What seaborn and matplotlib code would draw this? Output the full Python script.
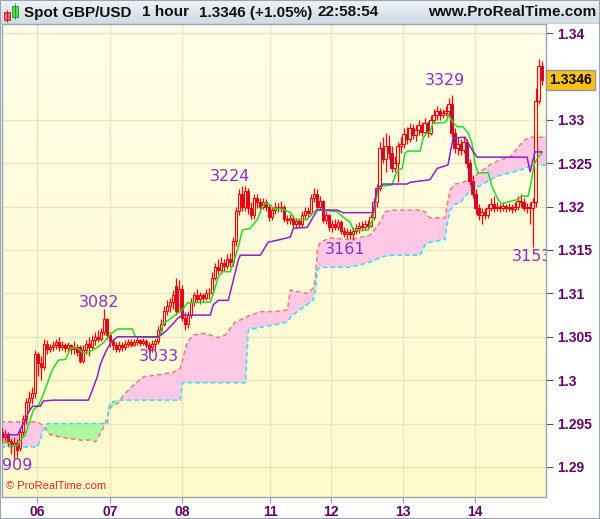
import numpy as np
import matplotlib
matplotlib.use('Agg')
import matplotlib.pyplot as plt
import matplotlib.transforms as mtransforms
from matplotlib.colors import LinearSegmentedColormap
from matplotlib.patches import Rectangle
import seaborn as sns

# ---------------- data (hourly GBP/USD candles, index = bar number) ----------------
opens = [
    1.2940, 1.2935, 1.2938, 1.2930, 1.2925, 1.2928, 1.2922, 1.2940, 1.2955, 1.2975,
    1.2980, 1.2985, 1.3030, 1.3020, 1.3015, 1.3042, 1.3036, 1.3038, 1.3040, 1.3044,
    1.3038, 1.3040, 1.3037, 1.3040, 1.3036, 1.3038, 1.3038, 1.3022, 1.3035, 1.3042,
    1.3038, 1.3046, 1.3050, 1.3048, 1.3055, 1.3070, 1.3052, 1.3045, 1.3040, 1.3036,
    1.3040, 1.3038, 1.3042, 1.3044, 1.3041, 1.3044, 1.3046, 1.3043, 1.3045, 1.3041,
    1.3038, 1.3042, 1.3045, 1.3058, 1.3065, 1.3080, 1.3085, 1.3090, 1.3108, 1.3080,
    1.3105, 1.3072, 1.3065, 1.3075, 1.3090, 1.3098, 1.3094, 1.3098, 1.3095, 1.3100,
    1.3100, 1.3118, 1.3130, 1.3127, 1.3135, 1.3132, 1.3140, 1.3136, 1.3160, 1.3195,
    1.3215, 1.3200, 1.3218, 1.3198, 1.3190, 1.3210, 1.3205, 1.3200, 1.3205, 1.3200,
    1.3188, 1.3196, 1.3200, 1.3198, 1.3200, 1.3186, 1.3184, 1.3187, 1.3180, 1.3183,
    1.3180, 1.3190, 1.3195, 1.3193, 1.3210, 1.3215, 1.3200, 1.3206, 1.3185, 1.3190,
    1.3176, 1.3180, 1.3177, 1.3182, 1.3172, 1.3168, 1.3171, 1.3168, 1.3172, 1.3175,
    1.3178, 1.3176, 1.3180, 1.3178, 1.3188, 1.3205, 1.3222, 1.3268, 1.3255, 1.3270,
    1.3262, 1.3245, 1.3250, 1.3270, 1.3272, 1.3284, 1.3278, 1.3290, 1.3282, 1.3288,
    1.3294, 1.3286, 1.3296, 1.3285, 1.3300, 1.3306, 1.3310, 1.3305, 1.3308, 1.3310,
    1.3318, 1.3285, 1.3268, 1.3272, 1.3265, 1.3275, 1.3250, 1.3230, 1.3215, 1.3198,
    1.3190, 1.3194, 1.3190, 1.3198, 1.3203, 1.3198, 1.3200, 1.3198, 1.3201, 1.3198,
    1.3200, 1.3197, 1.3200, 1.3207, 1.3205, 1.3198, 1.3200, 1.3198, 1.3205, 1.3322,
    1.3362]
closes = [
    1.2935, 1.2938, 1.2930, 1.2925, 1.2928, 1.2920, 1.2940, 1.2955, 1.2975, 1.2980,
    1.2985, 1.3030, 1.3020, 1.3015, 1.3042, 1.3036, 1.3038, 1.3040, 1.3044, 1.3038,
    1.3040, 1.3037, 1.3040, 1.3036, 1.3038, 1.3033, 1.3022, 1.3035, 1.3042, 1.3038,
    1.3046, 1.3050, 1.3048, 1.3055, 1.3070, 1.3052, 1.3045, 1.3040, 1.3036, 1.3040,
    1.3038, 1.3042, 1.3044, 1.3041, 1.3044, 1.3046, 1.3043, 1.3045, 1.3041, 1.3036,
    1.3042, 1.3045, 1.3058, 1.3065, 1.3080, 1.3085, 1.3090, 1.3098, 1.3080, 1.3105,
    1.3072, 1.3065, 1.3075, 1.3090, 1.3098, 1.3094, 1.3098, 1.3095, 1.3100, 1.3100,
    1.3118, 1.3130, 1.3127, 1.3135, 1.3132, 1.3140, 1.3136, 1.3160, 1.3195, 1.3215,
    1.3200, 1.3218, 1.3198, 1.3190, 1.3210, 1.3205, 1.3200, 1.3205, 1.3200, 1.3188,
    1.3196, 1.3200, 1.3198, 1.3200, 1.3186, 1.3184, 1.3187, 1.3180, 1.3183, 1.3180,
    1.3190, 1.3195, 1.3193, 1.3210, 1.3215, 1.3200, 1.3206, 1.3185, 1.3190, 1.3176,
    1.3180, 1.3177, 1.3182, 1.3172, 1.3168, 1.3171, 1.3168, 1.3172, 1.3175, 1.3178,
    1.3176, 1.3180, 1.3178, 1.3188, 1.3205, 1.3222, 1.3268, 1.3255, 1.3270, 1.3262,
    1.3245, 1.3250, 1.3270, 1.3272, 1.3284, 1.3278, 1.3290, 1.3282, 1.3288, 1.3294,
    1.3286, 1.3296, 1.3285, 1.3300, 1.3306, 1.3310, 1.3305, 1.3308, 1.3310, 1.3318,
    1.3285, 1.3268, 1.3272, 1.3265, 1.3275, 1.3250, 1.3230, 1.3215, 1.3198, 1.3190,
    1.3194, 1.3190, 1.3198, 1.3203, 1.3198, 1.3200, 1.3198, 1.3201, 1.3198, 1.3200,
    1.3197, 1.3200, 1.3207, 1.3205, 1.3198, 1.3200, 1.3198, 1.3205, 1.3322, 1.3362,
    1.3346]
highs = [
    1.2945, 1.2943, 1.2940, 1.2933, 1.2935, 1.2932, 1.2945, 1.2960, 1.2980, 1.2988,
    1.2992, 1.3035, 1.3033, 1.3028, 1.3048, 1.3046, 1.3042, 1.3045, 1.3048, 1.3050,
    1.3045, 1.3043, 1.3044, 1.3042, 1.3045, 1.3042, 1.3040, 1.3040, 1.3046, 1.3050,
    1.3052, 1.3056, 1.3058, 1.3060, 1.3082, 1.3072, 1.3055, 1.3048, 1.3044, 1.3045,
    1.3044, 1.3046, 1.3048, 1.3047, 1.3048, 1.3050, 1.3048, 1.3049, 1.3048, 1.3044,
    1.3046, 1.3048, 1.3062, 1.3070, 1.3085, 1.3092, 1.3095, 1.3104, 1.3118, 1.3115,
    1.3110, 1.3078, 1.3080, 1.3095, 1.3102, 1.3105, 1.3102, 1.3100, 1.3105, 1.3106,
    1.3125, 1.3135, 1.3140, 1.3142, 1.3140, 1.3145, 1.3147, 1.3165, 1.3200, 1.3220,
    1.3224, 1.3224, 1.3222, 1.3205, 1.3215, 1.3214, 1.3210, 1.3210, 1.3209, 1.3203,
    1.3200, 1.3205, 1.3204, 1.3206, 1.3202, 1.3190, 1.3191, 1.3190, 1.3187, 1.3187,
    1.3195, 1.3200, 1.3200, 1.3215, 1.3222, 1.3220, 1.3212, 1.3208, 1.3195, 1.3192,
    1.3185, 1.3186, 1.3186, 1.3185, 1.3176, 1.3175, 1.3174, 1.3176, 1.3180, 1.3182,
    1.3183, 1.3185, 1.3184, 1.3192, 1.3210, 1.3226, 1.3275, 1.3280, 1.3285, 1.3282,
    1.3270, 1.3258, 1.3275, 1.3280, 1.3290, 1.3292, 1.3296, 1.3295, 1.3294, 1.3300,
    1.3298, 1.3302, 1.3299, 1.3305, 1.3312, 1.3316, 1.3314, 1.3312, 1.3316, 1.3325,
    1.3329, 1.3290, 1.3280, 1.3278, 1.3280, 1.3278, 1.3255, 1.3236, 1.3220, 1.3203,
    1.3198, 1.3198, 1.3203, 1.3210, 1.3212, 1.3205, 1.3203, 1.3205, 1.3203, 1.3204,
    1.3203, 1.3205, 1.3212, 1.3215, 1.3210, 1.3204, 1.3205, 1.3210, 1.3337, 1.3370,
    1.3368]
lows = [
    1.2928, 1.2930, 1.2924, 1.2915, 1.2909, 1.2912, 1.2918, 1.2935, 1.2950, 1.2965,
    1.2972, 1.2980, 1.3005, 1.3000, 1.3012, 1.3030, 1.3032, 1.3034, 1.3036, 1.3034,
    1.3035, 1.3032, 1.3033, 1.3030, 1.3030, 1.3028, 1.3020, 1.3020, 1.3030, 1.3028,
    1.3035, 1.3040, 1.3044, 1.3045, 1.3052, 1.3048, 1.3038, 1.3035, 1.3032, 1.3033,
    1.3034, 1.3035, 1.3038, 1.3038, 1.3039, 1.3040, 1.3039, 1.3040, 1.3037, 1.3033,
    1.3033, 1.3035, 1.3042, 1.3055, 1.3062, 1.3075, 1.3078, 1.3082, 1.3075, 1.3078,
    1.3068, 1.3058, 1.3060, 1.3072, 1.3085, 1.3090, 1.3088, 1.3090, 1.3092, 1.3094,
    1.3098, 1.3115, 1.3122, 1.3122, 1.3126, 1.3128, 1.3130, 1.3132, 1.3155, 1.3190,
    1.3195, 1.3195, 1.3192, 1.3186, 1.3186, 1.3198, 1.3196, 1.3197, 1.3195, 1.3183,
    1.3184, 1.3192, 1.3194, 1.3194, 1.3182, 1.3180, 1.3180, 1.3176, 1.3175, 1.3176,
    1.3177, 1.3186, 1.3188, 1.3190, 1.3205, 1.3196, 1.3197, 1.3181, 1.3180, 1.3172,
    1.3171, 1.3173, 1.3173, 1.3168, 1.3165, 1.3164, 1.3163, 1.3161, 1.3168, 1.3170,
    1.3172, 1.3173, 1.3174, 1.3176, 1.3185, 1.3200, 1.3218, 1.3250, 1.3240, 1.3255,
    1.3240, 1.3240, 1.3228, 1.3262, 1.3268, 1.3272, 1.3274, 1.3278, 1.3276, 1.3282,
    1.3281, 1.3283, 1.3280, 1.3282, 1.3296, 1.3300, 1.3300, 1.3302, 1.3304, 1.3305,
    1.3280, 1.3262, 1.3260, 1.3260, 1.3262, 1.3245, 1.3225, 1.3210, 1.3192, 1.3185,
    1.3180, 1.3186, 1.3187, 1.3195, 1.3194, 1.3195, 1.3194, 1.3195, 1.3194, 1.3195,
    1.3193, 1.3194, 1.3196, 1.3200, 1.3195, 1.3193, 1.3180, 1.3153, 1.3200, 1.3318,
    1.3340]

# Ichimoku lines (bar index, price)
tenkan_x = [-0.5, 1.8, 3.8, 5.2, 6.2, 7.8, 10.5, 12.2, 13.5, 15.2,
            16.8, 18.8, 21.2, 22.8, 25.2, 26.8, 28.8, 31.8, 33.8, 36.2,
            38.5, 43.5, 44.5, 51.8, 52.8, 53.8, 55.5, 58.5, 60.2, 61.8,
            69.5, 70.5, 72.2, 73.5, 76.2, 77.8, 78.8, 80.2, 82.8, 85.2,
            86.8, 87.8, 89.5, 90.5, 93.8, 96.2, 97.8, 101.8, 103.8, 105.2,
            107.2, 111.8, 113.8, 116.2, 117.2, 122.2, 123.8, 125.2, 125.5, 130.2,
            131.2, 132.2, 133.5, 134.5, 135.5, 139.5, 140.5, 141.8, 142.8, 143.8,
            147.8, 148.5, 148.8, 150.5, 151.8, 153.8, 155.5, 156.8, 157.8, 158.8,
            162.2, 163.5, 165.5, 166.8, 168.5, 171.8, 173.5, 175.5, 176.5, 177.5,
            178.5, 180.2]
tenkan_y = [1.2929, 1.2928, 1.2924, 1.2925, 1.2931, 1.2937, 1.2966, 1.2971, 1.2981, 1.2997,
            1.3012, 1.3023, 1.3024, 1.3037, 1.3037, 1.3032, 1.3032, 1.3038, 1.3043, 1.3053,
            1.3059, 1.3059, 1.3050, 1.3049, 1.3052, 1.3066, 1.3069, 1.3077, 1.3081, 1.3089,
            1.3090, 1.3100, 1.3119, 1.3125, 1.3125, 1.3142, 1.3153, 1.3173, 1.3175, 1.3185,
            1.3200, 1.3204, 1.3202, 1.3198, 1.3197, 1.3193, 1.3185, 1.3185, 1.3193, 1.3197,
            1.3196, 1.3194, 1.3188, 1.3182, 1.3173, 1.3173, 1.3187, 1.3217, 1.3223, 1.3225,
            1.3236, 1.3242, 1.3244, 1.3262, 1.3264, 1.3264, 1.3279, 1.3285, 1.3286, 1.3296,
            1.3297, 1.3300, 1.3306, 1.3297, 1.3292, 1.3292, 1.3285, 1.3273, 1.3250, 1.3239,
            1.3239, 1.3223, 1.3208, 1.3203, 1.3205, 1.3208, 1.3212, 1.3212, 1.3227, 1.3248,
            1.3255, 1.3262]
kijun_x = [-0.5, 5.2, 6.8, 7.8, 8.8, 10.2, 12.8, 13.8, 17.2, 28.8,
           30.2, 31.8, 32.8, 34.5, 36.2, 38.5, 52.2, 54.5, 56.8, 58.8,
           60.5, 69.5, 70.5, 72.2, 75.5, 76.8, 78.8, 79.5, 86.2, 88.8,
           92.8, 96.2, 97.2, 101.8, 103.8, 105.2, 111.8, 113.8, 123.8, 125.2,
           127.2, 135.2, 136.2, 142.8, 145.2, 148.8, 150.5, 154.5, 156.2, 158.5,
           175.2, 176.2, 177.8, 180.2]
kijun_y = [1.2937, 1.2937, 1.2948, 1.2954, 1.2963, 1.2970, 1.2970, 1.2976, 1.2977, 1.2977,
           1.2989, 1.3004, 1.3018, 1.3032, 1.3043, 1.3050, 1.3050, 1.3056, 1.3064, 1.3072,
           1.3075, 1.3075, 1.3087, 1.3092, 1.3092, 1.3110, 1.3138, 1.3144, 1.3144, 1.3159,
           1.3162, 1.3165, 1.3175, 1.3176, 1.3188, 1.3196, 1.3196, 1.3193, 1.3193, 1.3221,
           1.3226, 1.3226, 1.3228, 1.3231, 1.3244, 1.3248, 1.3279, 1.3280, 1.3269, 1.3257,
           1.3257, 1.3240, 1.3263, 1.3263]
cloud_x = [-0.5, 11.8, 12.8, 13.5, 14.5, 15.2, 16.2, 18.8, 21.8, 26.2,
           29.5, 31.2, 32.2, 33.5, 34.5, 35.2, 35.5, 36.2, 38.8, 40.2,
           41.2, 43.8, 47.2, 51.8, 57.2, 59.5, 60.2, 61.8, 63.8, 67.2,
           69.5, 71.8, 74.5, 77.8, 81.2, 82.2, 86.2, 91.2, 95.2, 96.2,
           98.5, 101.8, 103.8, 104.5, 105.2, 106.2, 109.5, 116.2, 122.8, 126.2,
           127.8, 130.2, 139.5, 141.2, 142.8, 147.8, 148.5, 149.5, 151.2, 152.8,
           156.2, 159.5, 162.8, 166.2, 169.5, 172.8, 174.5, 176.2, 181.5]
span_a = [1.2952, 1.2952, 1.2950, 1.2948, 1.2945, 1.2940, 1.2937, 1.2935, 1.2933, 1.2931,
          1.2931, 1.2929, 1.2935, 1.2943, 1.2951, 1.2956, 1.2962, 1.2969, 1.2974, 1.2981,
          1.2985, 1.2994, 1.3004, 1.3006, 1.3009, 1.3014, 1.3023, 1.3044, 1.3052, 1.3054,
          1.3052, 1.3049, 1.3052, 1.3067, 1.3072, 1.3074, 1.3079, 1.3079, 1.3081, 1.3104,
          1.3102, 1.3100, 1.3106, 1.3115, 1.3150, 1.3159, 1.3164, 1.3162, 1.3167, 1.3182,
          1.3194, 1.3196, 1.3196, 1.3194, 1.3187, 1.3187, 1.3202, 1.3219, 1.3226, 1.3227,
          1.3231, 1.3240, 1.3248, 1.3254, 1.3257, 1.3271, 1.3277, 1.3280, 1.3280]
span_b = [1.2923, 1.2923, 1.2931, 1.2940, 1.2947, 1.2950, 1.2950, 1.2950, 1.2950, 1.2950,
          1.2950, 1.2950, 1.2950, 1.2950, 1.2950, 1.2950, 1.2966, 1.2974, 1.2977, 1.2977,
          1.2977, 1.2977, 1.2977, 1.2977, 1.2977, 1.2977, 1.2997, 1.2997, 1.2997, 1.2997,
          1.2997, 1.2997, 1.2997, 1.2997, 1.2997, 1.3058, 1.3061, 1.3064, 1.3067, 1.3072,
          1.3079, 1.3087, 1.3092, 1.3104, 1.3127, 1.3130, 1.3130, 1.3130, 1.3136, 1.3141,
          1.3143, 1.3144, 1.3144, 1.3156, 1.3159, 1.3162, 1.3179, 1.3196, 1.3203, 1.3204,
          1.3219, 1.3224, 1.3231, 1.3236, 1.3239, 1.3242, 1.3244, 1.3247, 1.3248]

# extreme labels (the first one is shown cut at the chart's left edge: "909")
ext_labels = ['909', '3082', '3033', '3224', '3161', '3329', '3153']
ext_x = [0.0, 32.5, 52.2, 76.2, 114.5, 147.8, 176.8]
ext_ha = ['left', 'center', 'center', 'center', 'center', 'center', 'center']
ext_y = [1.2902, 1.3089, 1.3027, 1.3235, 1.3151, 1.3345, 1.3142]

day_labels = ['06', '07', '08', '11', '12', '13', '14']
day_pos = [11.8, 36.0, 60.2, 89.5, 109.7, 133.8, 157.8]
price_ticks = [1.29, 1.295, 1.30, 1.305, 1.31, 1.315, 1.32, 1.325, 1.33, 1.335, 1.34]
price_tick_labels = ['1.29', '1.295', '1.3', '1.305', '1.31', '1.315', '1.32', '1.325', '1.33', '', '1.34']
last_price = 1.3346

# ---------------- drawing ----------------
sns.set_style('white')
plt.rcParams['font.family'] = ['Liberation Sans', 'DejaVu Sans']

W, H = 600, 519
fig = plt.figure(figsize=(W / 100, H / 100), dpi=100)
fig.patch.set_facecolor('white')

X0, X1 = 0.0, 181.5
Y0, Y1 = 1.28654, 1.34104
ax = fig.add_axes([2 / W, 22 / H, 544 / W, 473 / H])
ax.set_xlim(X0, X1)
ax.set_ylim(Y0, Y1)

# background gradient
bg = LinearSegmentedColormap.from_list('bg', ['#fffacb', '#ffffe9'])
grad = np.linspace(0, 1, 256).reshape(-1, 1)
ax.imshow(grad, extent=[X0, X1, Y0, Y1], origin='lower', aspect='auto', cmap=bg, zorder=0)

# grid
for d in day_pos:
    ax.axvline(d, color='#e9e5c3', lw=1.0, zorder=0.5)
for p in price_ticks:
    if p != 1.335:
        ax.axhline(p, color='#e9e5c3', lw=1.0, zorder=0.5)

# cloud
ca = np.array(span_a)
cb = np.array(span_b)
ax.fill_between(cloud_x, ca, cb, where=ca >= cb, interpolate=True, color='#ffc9e6', lw=0, zorder=1)
ax.fill_between(cloud_x, ca, cb, where=ca < cb, interpolate=True, color='#adf7a0', lw=0, zorder=1)
ax.plot(cloud_x, span_a, color='#f47a7a', lw=1.1, ls=(0, (3, 2)), zorder=2)
ax.plot(cloud_x, span_b, color='#2ee0f0', lw=1.1, ls=(0, (3, 2)), zorder=2)

# candles
xs = np.arange(len(closes))
o = np.array(opens); c = np.array(closes); hi = np.array(highs); lo = np.array(lows)
ax.vlines(xs, lo, hi, color='#ff0000', lw=0.9, zorder=3)
body_bottom = np.minimum(o, c)
body_h = np.maximum(np.abs(c - o), 0.00006)
fills = ['#a3155e' if cc < oo else '#fffbd6' for oo, cc in zip(o, c)]
ax.bar(xs, body_h, bottom=body_bottom, width=0.78, color=fills, edgecolor='#ff0000',
       linewidth=0.8, zorder=4)

# tenkan / kijun via seaborn
sns.lineplot(x=tenkan_x, y=tenkan_y, ax=ax, color='#22dd22', lw=1.1, sort=False,
             estimator=None, zorder=5)
sns.lineplot(x=kijun_x, y=kijun_y, ax=ax, color='#8f1fc6', lw=1.1, sort=False,
             estimator=None, zorder=5)

# extreme labels
for t, lx, ly, ha in zip(ext_labels, ext_x, ext_y, ext_ha):
    ax.text(lx, ly, t, ha=ha, va='center', fontsize=11.5, color='#8b2fc9',
            family='DejaVu Sans', zorder=6, clip_on=True)

ax.text(0.008, 0.012, '\u00a9 ProRealTime.com', transform=ax.transAxes, fontsize=8,
        color='#e8281e', ha='left', va='bottom', zorder=6)

# axes styling
ax.yaxis.tick_right()
ax.set_yticks(price_ticks)
ax.set_yticklabels(price_tick_labels)
ax.set_xticks(day_pos)
ax.set_xticklabels(day_labels)
ax.tick_params(axis='y', which='both', right=True, left=False, length=5, width=0.8,
               color='#555555', pad=3, labelsize=10, labelcolor='#660066', direction='out')
ax.tick_params(axis='x', which='both', bottom=True, length=4, width=0.8,
               color='#999999', pad=2, labelsize=10, labelcolor='#660066', direction='out')
for lab in ax.get_yticklabels() + ax.get_xticklabels():
    lab.set_fontweight('bold')
for s in ax.spines.values():
    s.set_color('#9aa5ae')
    s.set_linewidth(1.0)
ax.set_xlabel('')
ax.set_ylabel('')

# last price box
trans = mtransforms.blended_transform_factory(ax.transAxes, ax.transData)
ax.text(1.006, last_price, '1.3346', transform=trans, ha='left', va='center', fontsize=10,
        fontweight='bold', color='black', zorder=10, clip_on=False,
        bbox=dict(boxstyle='square,pad=0.22', fc='#ffc20e', ec='#8d9aa6', lw=1.0))

# title bar
tax = fig.add_axes([0, 1 - 24 / H, 1, 24 / H])
tgrad = LinearSegmentedColormap.from_list('tb', ['#cfdbe4', '#eef3f7'])
tax.imshow(np.linspace(0, 1, 64).reshape(-1, 1), extent=[0, W, 0, 24], origin='lower',
           aspect='auto', cmap=tgrad)
tax.set_xlim(0, W); tax.set_ylim(0, 24)
tax.axis('off')
tax.add_patch(Rectangle((3.5, 4.5), 6, 8, fc='#f06060', ec='#b02020', lw=0.6))
tax.plot([6.5, 6.5], [2.5, 14.5], color='#b02020', lw=0.6)
tax.add_patch(Rectangle((11.5, 7.5), 6, 11, fc='#50dd50', ec='#209020', lw=0.6))
tax.plot([14.5, 14.5], [5, 21.5], color='#209020', lw=0.6)
title_parts = [('Spot GBP/USD', 24), ('1 hour', 142), ('1.3346 (+1.05%)', 199), ('22:58:54', 318)]
for txt, px in title_parts:
    tax.text(px, 11.5, txt, ha='left', va='center', fontsize=11, fontweight='bold', color='#111111')
tax.text(596, 11.5, 'www.ProRealTime.com', ha='right', va='center', fontsize=11,
         fontweight='bold', color='#111111')
tax.axhline(0.3, color='#9aa5ae', lw=1)

# outer frame
fig.patches.append(Rectangle((0, 0), 1, 1, transform=fig.transFigure, fill=False,
                             ec='#9aa5ae', lw=1.5))

fig.savefig('out.png', dpi=100)
